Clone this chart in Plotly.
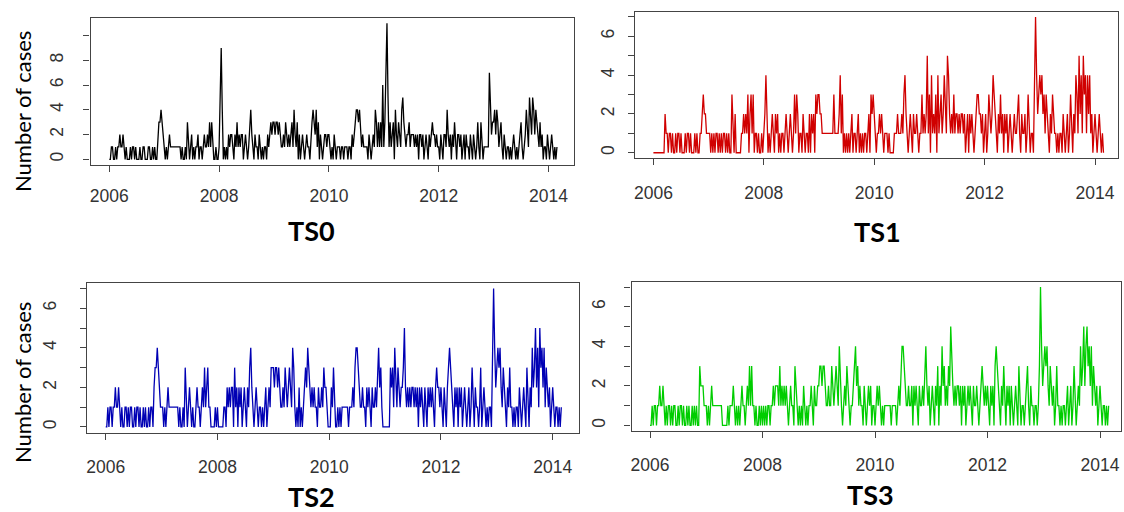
import plotly.graph_objects as go

# ---------------- data (weekly counts, ts start 2006, frequency 52) ----------------
START_YEAR = 2006
FREQ = 52

ts0_2006 = [0,0,1,1,0,0,1,0,1,1,2,1,1,2,1,0,1,0,0,0,1,0,1,1,0,1,0,0,0,1,0,0,1,1,0,0,0,1,1,0,0,1,0,1,0,0,2,3,3,4,3,2]
ts0_2007 = [1,0,1,0,1,2,1,1,1,1,1,1,1,1,1,1,0,1,0,0,1,0,3,1,0,1,2,0,1,0,1,1,2,0,1,1,0,1,2,1,1,2,1,3,1,3,1,0,0,1,0,0]
ts0_2008 = [1,5,9,4,0,1,0,1,0,2,1,2,2,1,0,2,1,3,1,2,1,2,2,0,1,2,1,0,1,3,4,2,1,0,2,1,1,0,2,1,0,1,0,1,1,0,2,1,2,3,2,3]
ts0_2009 = [3,2,3,3,2,3,2,1,1,2,1,3,2,1,2,1,2,3,1,4,2,1,3,0,2,0,1,2,1,0,1,2,1,1,0,2,3,4,3,2,4,1,3,0,2,1,0,1,2,2,1,2]
ts0_2010 = [2,1,0,1,0,2,1,0,1,1,1,0,1,1,0,1,1,1,0,1,1,0,2,1,2,3,4,4,3,4,2,1,2,1,1,1,1,0,2,1,0,1,2,1,4,3,1,3,1,3,1,6]
ts0_2011 = [1,3,6,11,5,1,3,1,2,3,0,4,2,1,3,2,1,4,5,3,2,1,2,2,3,1,2,2,2,1,2,1,2,0,2,2,1,2,0,1,2,1,0,2,1,2,3,2,2,1,2,1]
ts0_2012 = [1,0,2,1,0,2,2,1,4,2,1,2,0,2,1,3,1,0,2,2,1,2,0,1,2,0,2,1,1,0,2,1,0,2,1,0,1,3,1,0,3,1,0,1,1,1,1,1,7,4,2,3]
ts0_2013 = [3,4,2,4,3,1,2,3,1,0,2,1,0,1,1,0,1,0,1,2,1,0,1,0,1,2,3,1,0,1,2,4,2,1,5,3,2,5,4,2,4,3,2,1,3,1,2,0,1,1,0,2]
ts0_2014 = [1,0,1,2,1,0,1,0,1]

ts1_2006 = [0,0,0,0,0,0,0,0,0,0,0,2,1,1,0,1,1,0,1,0,0,1,0,1,1,0,1,0,0,0,1,0,1,1,0,1,0,0,0,1,0,1,0,0,1,1,2,3,2,2,1,1]
ts1_2007 = [1,1,0,1,0,1,0,1,1,0,1,0,1,0,1,1,0,1,0,1,0,0,3,1,0,2,0,0,0,0,0,1,1,2,1,2,1,3,0,2,3,1,3,0,1,1,0,1,0,0,1,0]
ts1_2008 = [1,2,4,1,0,1,0,1,2,1,0,2,1,2,0,1,0,1,1,0,1,2,1,0,1,2,1,0,1,3,1,3,2,0,1,1,0,2,1,0,1,1,0,2,0,2,1,2,0,3,2,3]
ts1_2009 = [3,2,2,1,1,1,1,1,1,1,1,1,1,1,3,1,1,1,1,2,4,1,3,0,1,0,1,0,1,0,1,2,0,1,1,0,1,2,0,1,0,1,0,1,1,0,1,2,0,3,2,3]
ts1_2010 = [2,1,0,1,1,2,1,2,1,0,1,1,1,0,1,0,0,0,0,1,1,1,2,1,1,1,2,1,3,4,2,1,0,1,2,1,0,2,1,1,2,1,0,1,1,3,1,2,1,2,5,1]
ts1_2011 = [3,0,4,1,2,1,3,0,4,1,2,3,1,2,4,2,1,5,4,2,1,2,1,3,1,2,2,1,2,1,2,2,1,2,0,1,2,0,2,1,2,1,0,1,2,3,3,2,2,1,2,0]
ts1_2012 = [1,2,0,1,3,2,1,2,4,3,2,1,0,2,1,3,1,2,0,2,1,2,0,1,2,1,0,1,2,1,1,2,3,1,0,2,1,1,2,0,1,3,1,0,1,1,0,3,7,4,2,3]
ts1_2013 = [4,3,4,2,3,1,3,2,1,0,2,1,3,2,1,1,0,1,0,1,1,0,2,1,0,1,2,0,1,3,1,0,2,1,4,3,1,5,2,4,1,5,3,4,1,4,2,4,1,2,0,1]
ts1_2014 = [2,1,0,1,2,1,0,1,0]

ts2_2006 = [0,0,1,0,1,1,0,1,1,2,1,1,2,1,0,1,0,0,1,1,0,1,0,1,1,0,0,1,0,1,1,0,1,0,0,1,0,1,0,0,1,0,1,1,0,2,3,3,4,3,2,1]
ts2_2007 = [1,1,0,1,0,1,2,1,1,1,1,1,1,1,1,1,0,1,0,0,1,0,3,1,0,1,2,1,0,1,0,0,1,2,1,1,0,1,2,1,3,1,2,3,1,1,0,0,0,0,1,0]
ts2_2008 = [1,0,0,0,0,0,1,1,0,2,1,2,1,2,2,0,3,1,2,0,2,1,2,0,1,2,1,0,2,1,3,4,2,1,0,1,2,1,0,1,1,0,1,0,1,2,0,1,2,1,3,3]
ts2_2009 = [3,2,3,3,2,3,2,1,1,2,1,3,2,1,2,3,2,1,4,3,1,0,1,0,2,0,1,0,1,2,3,2,4,3,2,1,2,1,2,1,1,0,2,1,1,2,1,3,2,2,1,0]
ts2_2010 = [0,0,2,1,3,1,0,0,1,0,1,0,1,1,1,1,1,1,0,1,1,1,2,1,3,4,4,3,2,1,1,2,1,1,0,2,1,2,1,0,2,1,1,2,1,3,4,2,3,1,0,0]
ts2_2011 = [0,0,0,0,0,3,2,3,1,4,2,1,3,2,1,2,2,3,5,2,1,2,1,2,1,2,2,1,2,1,2,0,2,1,2,1,0,2,1,0,2,1,2,1,2,1,0,2,3,2,2,1]
ts2_2012 = [2,1,0,2,1,0,2,3,4,3,2,1,0,2,1,2,0,2,1,2,0,1,2,1,0,1,2,0,1,3,1,0,2,1,1,0,1,3,0,1,2,1,0,1,0,1,1,0,3,7,4,2]
ts2_2013 = [3,4,3,4,2,1,3,2,1,0,2,1,3,1,1,0,1,0,1,1,0,2,1,0,1,2,1,0,3,1,0,2,1,4,2,3,5,2,4,1,5,3,4,2,4,1,3,2,1,2,0,1]
ts2_2014 = [2,1,0,1,1,0,1,0,1]

ts3_2006 = [0,0,1,0,1,1,0,1,1,2,1,1,2,1,0,1,0,1,1,0,1,0,1,1,0,0,1,0,1,1,0,1,0,0,1,0,1,0,0,1,0,1,0,1,0,0,3,2,2,2,1,1]
ts3_2007 = [1,0,1,0,1,2,1,1,1,1,1,1,1,1,1,0,0,0,0,0,1,0,1,1,1,2,1,0,1,0,1,0,1,2,1,1,0,1,2,1,3,1,3,1,1,0,1,0,0,1,0,1]
ts3_2008 = [0,1,0,1,0,1,1,0,1,1,2,1,2,2,2,1,3,1,2,1,2,1,2,1,0,1,2,1,1,0,3,2,1,0,1,0,1,0,2,1,0,1,0,1,1,2,1,0,2,1,1,2]
ts3_2009 = [2,3,3,2,3,3,2,1,1,2,1,1,3,2,1,2,3,2,1,4,2,1,0,1,2,1,3,2,1,0,1,1,2,3,4,2,3,1,2,1,1,0,2,1,0,1,2,1,2,0,1,1]
ts3_2010 = [0,1,2,1,2,1,0,1,0,1,1,1,1,1,1,0,1,1,1,1,0,1,2,1,3,4,4,3,2,1,1,2,1,1,2,0,2,1,2,1,0,2,1,1,2,1,3,4,2,1,2,0]
ts3_2011 = [1,2,1,0,2,1,3,0,2,1,4,2,3,1,2,1,3,2,5,3,2,1,2,1,2,2,1,2,0,2,1,2,0,1,2,1,2,1,0,2,1,1,2,1,0,1,2,3,2,1,2,1]
ts3_2012 = [2,1,0,2,1,2,0,3,4,3,2,1,0,2,1,3,1,0,2,1,2,0,2,1,0,1,2,1,0,3,1,0,1,1,0,1,2,3,1,0,2,1,1,0,1,1,0,1,3,7,4,2]
ts3_2013 = [3,4,3,4,2,1,3,2,1,2,0,1,3,1,1,0,1,0,1,1,0,1,2,0,1,2,0,1,3,1,0,1,2,1,4,2,3,5,2,4,5,3,4,2,4,1,3,2,1,2,0,1]
ts3_2014 = [2,1,0,1,1,0,1,0,1]

x_tick_years = [2006, 2008, 2010, 2012, 2014]
ts0_ytickvals = [0, 2, 4, 6, 8, 10]
ts0_yticktext = ["0", "2", "4", "6", "8", ""]
ts_ytickvals = [0, 1, 2, 3, 4, 5, 6, 7]
ts_yticktext = ["0", "", "2", "", "4", "", "6", ""]
titles = ["TS0", "TS1", "TS2", "TS3"]
y_label = "Number of cases"

series = [
    ts0_2006 + ts0_2007 + ts0_2008 + ts0_2009 + ts0_2010 + ts0_2011 + ts0_2012 + ts0_2013 + ts0_2014,
    ts1_2006 + ts1_2007 + ts1_2008 + ts1_2009 + ts1_2010 + ts1_2011 + ts1_2012 + ts1_2013 + ts1_2014,
    ts2_2006 + ts2_2007 + ts2_2008 + ts2_2009 + ts2_2010 + ts2_2011 + ts2_2012 + ts2_2013 + ts2_2014,
    ts3_2006 + ts3_2007 + ts3_2008 + ts3_2009 + ts3_2010 + ts3_2011 + ts3_2012 + ts3_2013 + ts3_2014,
]

# ---------------- layout (pixel geometry of each panel, in window pixels) ----------------
W, H = 1124, 512
colors = ["#000000", "#D00000", "#0000B4", "#00CD00"]
# box left, box right, px of 2006 tick, px per year, box top, box bottom, y range
panels = [
    dict(L=90.5, R=574, t06=109.3, ppy=54.9, T=17.7, B=164.8, yr=[-0.44, 11.44],
         tv=ts0_ytickvals, tt=ts0_yticktext, ystand=13, title_xy=(311, 230), xlab_y=196.7),
    dict(L=635, R=1118, t06=653.4, ppy=55.2, T=11.5, B=158.2, yr=[-0.28, 7.28],
         tv=ts_ytickvals, tt=ts_yticktext, ystand=7, title_xy=(877, 231.5), xlab_y=193.3),
    dict(L=87.4, R=579, t06=105.7, ppy=55.875, T=283, B=432.5, yr=[-0.28, 7.28],
         tv=ts_ytickvals, tt=ts_yticktext, ystand=17, title_xy=(311, 496), xlab_y=466.7),
    dict(L=631.5, R=1121, t06=650, ppy=56.25, T=281.5, B=431, yr=[-0.28, 7.28],
         tv=ts_ytickvals, tt=ts_yticktext, ystand=12, title_xy=(870, 494), xlab_y=465),
]


def px_x(v):
    return v / W


def px_y(v):
    return 1 - v / H


fig = go.Figure()
layout = dict(width=W, height=H, margin=dict(l=0, r=0, t=0, b=0),
              paper_bgcolor="white", plot_bgcolor="white", showlegend=False)
annotations = []

tick_font = dict(family="Liberation Sans, Arial", size=17.5, color="#333333")

for k, (p, vals) in enumerate(zip(panels, series)):
    xs = [START_YEAR + i / FREQ for i in range(len(vals))]
    ax = "" if k == 0 else str(k + 1)
    fig.add_trace(go.Scatter(x=xs, y=vals, mode="lines",
                             line=dict(color=colors[k], width=1.3),
                             xaxis="x" + ax, yaxis="y" + ax, hoverinfo="skip"))
    r0 = START_YEAR - (p["t06"] - p["L"]) / p["ppy"]
    r1 = START_YEAR + (p["R"] - p["t06"]) / p["ppy"]
    layout["xaxis" + ax] = dict(
        domain=[px_x(p["L"]), px_x(p["R"])], range=[r0, r1], anchor="y" + ax,
        tickvals=x_tick_years, ticktext=[str(v) for v in x_tick_years],
        ticks="outside", ticklen=6, tickwidth=1, tickcolor="#444444",
        showline=True, linecolor="#444444", linewidth=1.2, mirror=True,
        showgrid=False, zeroline=False, tickfont=tick_font,
        ticklabelstandoff=int(p["xlab_y"] - p["B"] - 6 - 16),
    )
    layout["yaxis" + ax] = dict(
        domain=[px_y(p["B"]), px_y(p["T"])], range=p["yr"], anchor="x" + ax,
        tickvals=p["tv"], ticktext=p["tt"], tickangle=-90,
        ticks="outside", ticklen=6, tickwidth=1, tickcolor="#444444",
        showline=True, linecolor="#444444", linewidth=1.2, mirror=True,
        showgrid=False, zeroline=False, tickfont=tick_font,
        ticklabelstandoff=p["ystand"],
    )
    annotations.append(dict(text="<b>%s</b>" % titles[k], x=px_x(p["title_xy"][0]),
                            y=px_y(p["title_xy"][1]), xref="paper", yref="paper",
                            showarrow=False, xanchor="center", yanchor="middle",
                            font=dict(family="Lato", size=27, color="#000000")))

for cy in (112, 383):
    annotations.append(dict(text=y_label, x=px_x(22), y=px_y(cy), xref="paper", yref="paper",
                            showarrow=False, textangle=-90, xanchor="center", yanchor="middle",
                            font=dict(family="Lato", size=22, color="#000000")))

layout["annotations"] = annotations
fig.update_layout(**layout)
fig.write_html("out.html",
               config={"displayModeBar": False},
               post_script="document.body.style.margin='0';document.body.style.overflow='hidden';")
